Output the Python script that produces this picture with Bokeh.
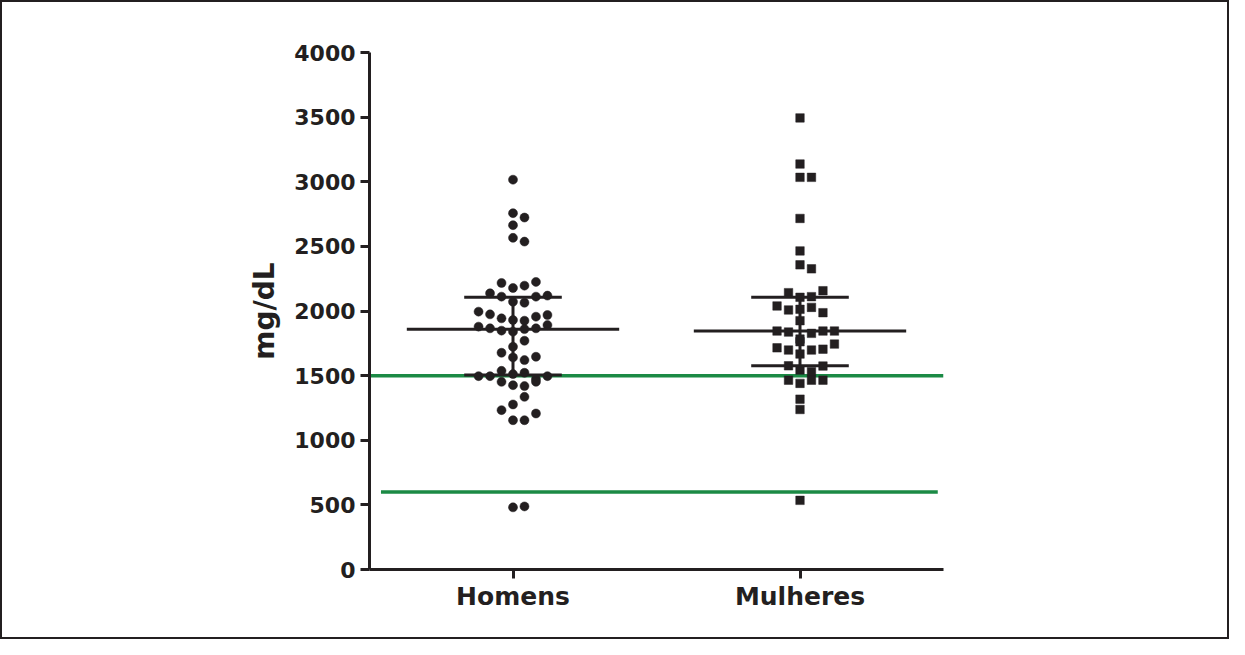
from bokeh.plotting import figure
from bokeh.models import FixedTicker, Range1d
from bokeh.embed import file_html
from bokeh.resources import INLINE

# ---- data ----
categories = ["Homens", "Mulheres"]
homens = [3016,
          2757, 2723,
          2664,
          2566, 2537,
          2217, 2178, 2196, 2225,
          2137, 2111, 2072, 2064, 2111, 2119,
          1995, 1974, 1943, 1930, 1925, 1956, 1969,
          1879, 1866, 1848, 1840, 1860, 1866, 1891,
          1723, 1770,
          1677, 1641, 1620, 1646,
          1496, 1496, 1537, 1512, 1522, 1473, 1496,
          1452, 1426, 1419, 1452,
          1277, 1336,
          1233, 1155, 1155, 1207,
          481, 488]
mulheres = [3494,
            3137,
            3034, 3034,
            2716,
            2465,
            2357, 2326,
            2142, 2106, 2111, 2157,
            2039, 2008, 2013, 2028, 1987,
            1925,
            1845, 1837, 1783, 1827, 1845, 1845,
            1715, 1698, 1762, 1698, 1705, 1744,
            1667,
            1576, 1543, 1530, 1574,
            1465, 1440, 1465, 1465,
            1318,
            1238,
            535]
medians = [1858, 1845]
q1 = [1505, 1576]
q3 = [2106, 2106]
ref_lines = [1500, 600]
y_ticks = [0, 500, 1000, 1500, 2000, 2500, 3000, 3500, 4000]

INK = "#231f20"
GREEN = "#1b8a45"


def swarm(vals, center, gap=80, slot=0.040):
    """Prism-like column scatter: values close together share a row."""
    order = sorted(range(len(vals)), key=lambda i: -vals[i])
    rows, cur, start = [], [], None
    for i in order:
        if cur and start - vals[i] < gap:
            cur.append(i)
        else:
            if cur:
                rows.append(cur)
            cur, start = [i], vals[i]
    rows.append(cur)
    xs = [0.0] * len(vals)
    for r in rows:
        r = sorted(r)
        lo = -((len(r) - 1) // 2)
        for k, i in enumerate(r):
            xs[i] = center + (lo + k) * slot
    return xs


p = figure(width=1229, height=639, output_backend="svg", toolbar_location=None,
           x_range=Range1d(0.5, 2.5), y_range=Range1d(0, 4000),
           min_border_left=367, min_border_right=288,
           min_border_top=50, min_border_bottom=72)
p.styles = {"border": "2px solid #231f20"}
p.xgrid.visible = False
p.ygrid.visible = False
p.outline_line_color = None
p.background_fill_color = "white"
p.border_fill_color = "white"

# reference lines (green)
p.segment(x0=[0.5, 0.54], x1=[2.5, 2.48], y0=ref_lines, y1=ref_lines,
          line_color=GREEN, line_width=3.5)

# points
hx = swarm(homens, 1)
mx = swarm(mulheres, 2)
p.scatter(hx, homens, marker="circle", size=9, fill_color=INK, line_color=INK, line_width=0.5)
p.scatter(mx, mulheres, marker="square", size=8.5, fill_color=INK, line_color=INK, line_width=0.5)

# median and interquartile range
centers = [1, 2]
p.segment(x0=[c - 0.37 for c in centers], x1=[c + 0.37 for c in centers],
          y0=medians, y1=medians, line_color=INK, line_width=3)
p.segment(x0=[c - 0.17 for c in centers] * 2, x1=[c + 0.17 for c in centers] * 2,
          y0=q1 + q3, y1=q1 + q3, line_color=INK, line_width=3)
p.segment(x0=centers, x1=centers, y0=q1, y1=q3, line_color=INK, line_width=3)

# axes
for ax in (p.xaxis[0], p.yaxis[0]):
    ax.axis_line_color = INK
    ax.axis_line_width = 3
    ax.major_tick_line_color = INK
    ax.major_tick_line_width = 3
    ax.major_tick_out = 9
    ax.major_tick_in = 0
    ax.minor_tick_line_color = None
    ax.major_label_text_font = "DejaVu Sans"
    ax.major_label_text_font_style = "bold"
    ax.major_label_text_color = INK

p.yaxis.ticker = FixedTicker(ticks=y_ticks)
p.yaxis.major_label_text_font_size = "22px"
p.yaxis.major_label_standoff = 5
p.yaxis.axis_label = "mg/dL"
p.yaxis.axis_label_text_font = "DejaVu Sans"
p.yaxis.axis_label_text_font_style = "bold"
p.yaxis.axis_label_text_font_size = "28px"
p.yaxis.axis_label_text_color = INK
p.yaxis.axis_label_standoff = 10

p.xaxis.ticker = FixedTicker(ticks=[1, 2])
p.xaxis.major_label_overrides = {1: categories[0], 2: categories[1]}
p.xaxis.major_label_text_font_size = "25px"
p.xaxis.major_label_standoff = 3

open("out.html", "w").write(file_html(p, INLINE))
